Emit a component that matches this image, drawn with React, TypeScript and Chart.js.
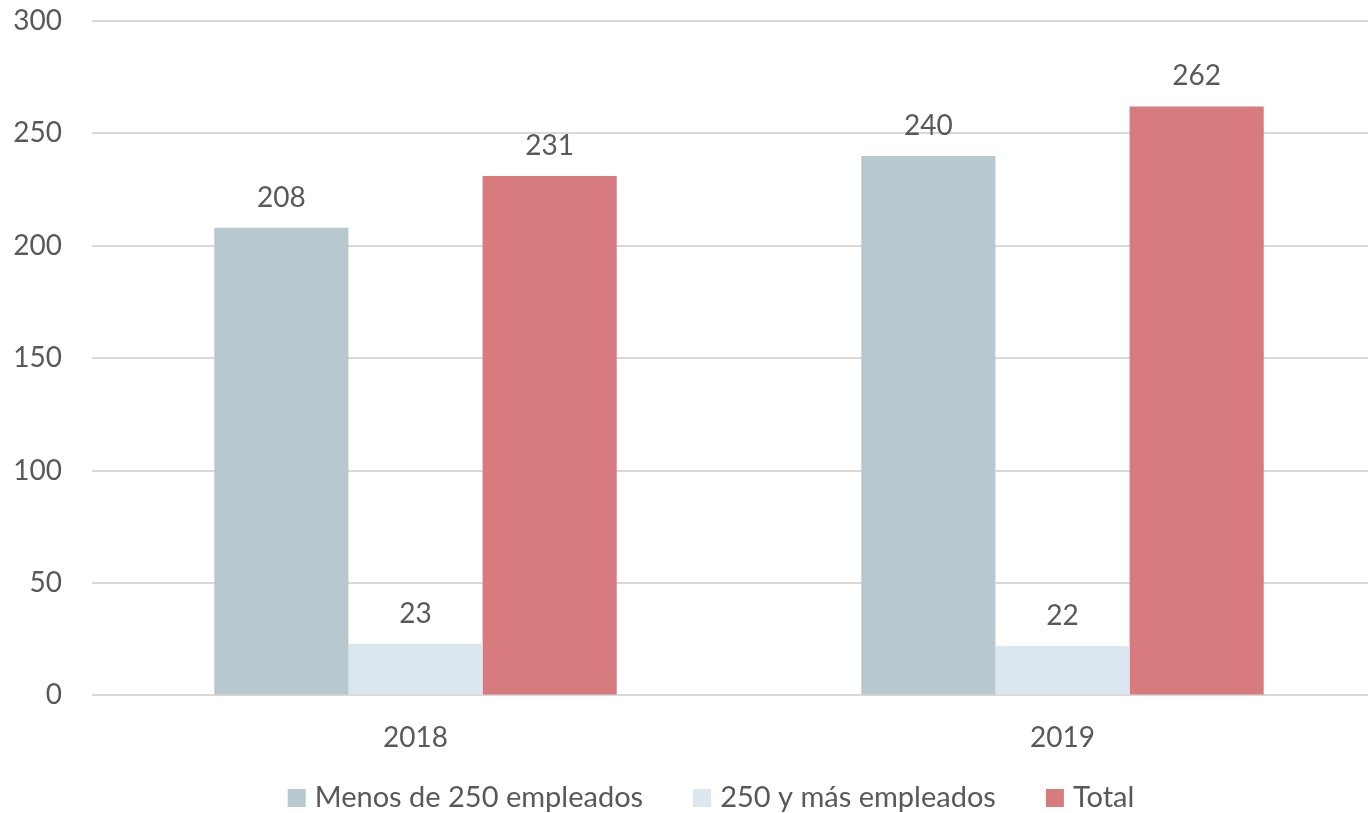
import React, { useEffect, useRef } from "react";
import { Chart, registerables } from "chart.js";

Chart.register(...registerables);

const categories = ["2018", "2019"];
const menos250 = [208, 240];
const mas250 = [23, 22];
const total = [231, 262];
const seriesLabels = ["Menos de 250 empleados", "250 y más empleados", "Total"];
const seriesColors = ["#B7C8CF", "#DAE7EE", "#D77B7E"];
const yTicks = [0, 50, 100, 150, 200, 250, 300];

const FONT = "Lato, 'Open Sans', sans-serif";
const TEXT = "#595959";

const valueLabels = {
  id: "valueLabels",
  afterDatasetsDraw(chart: any) {
    const ctx = chart.ctx;
    ctx.save();
    ctx.font = `28px ${FONT}`;
    ctx.fillStyle = TEXT;
    ctx.textAlign = "center";
    ctx.textBaseline = "middle";
    chart.data.datasets.forEach((ds: any, i: number) => {
      const meta = chart.getDatasetMeta(i);
      meta.data.forEach((bar: any, j: number) => {
        ctx.fillText(String(ds.data[j]), bar.x, bar.y - 30);
      });
    });
    ctx.restore();
  },
};

const bottomLegend = {
  id: "bottomLegend",
  afterDraw(chart: any) {
    const ctx = chart.ctx;
    ctx.save();
    ctx.font = `29px ${FONT}`;
    ctx.textBaseline = "middle";
    ctx.textAlign = "left";
    const box = 18, gapText = 9, gapItem = 50;
    const items = chart.data.datasets.map((ds: any) => ({
      label: ds.label,
      color: ds.backgroundColor,
      w: ctx.measureText(ds.label).width,
    }));
    const totalW = items.reduce((a: number, it: any) => a + box + gapText + it.w, 0) + gapItem * (items.length - 1);
    let x = chart.width / 2 - totalW / 2;
    const cy = 798;
    items.forEach((it: any) => {
      ctx.fillStyle = it.color;
      ctx.fillRect(x, cy - box / 2, box, box);
      x += box + gapText;
      ctx.fillStyle = TEXT;
      ctx.fillText(it.label, x, cy);
      x += it.w + gapItem;
    });
    ctx.restore();
  },
};

export default function App() {
  const ref = useRef<HTMLCanvasElement>(null);
  useEffect(() => {
    document.body.style.margin = "0";
    const chart = new Chart(ref.current!, {
      type: "bar",
      data: {
        labels: categories,
        datasets: [menos250, mas250, total].map((d, i) => ({
          label: seriesLabels[i],
          data: d,
          backgroundColor: seriesColors[i],
          borderWidth: 0,
          barPercentage: 1,
          categoryPercentage: 0.622,
        })),
      },
      options: {
        responsive: false,
        animation: false,
        maintainAspectRatio: false,
        layout: { padding: { top: 21, right: 36, left: 0, bottom: 40 } },
        plugins: {
          tooltip: { enabled: false },
          legend: { display: false },
        },
        scales: {
          x: {
            grid: { display: false },
            border: { display: false },
            ticks: { font: { family: FONT, size: 28 }, color: TEXT, padding: 18 },
          },
          y: {
            min: 0,
            max: 300,
            afterFit: (s: any) => { s.width = 92; },
            afterBuildTicks: (s: any) => { s.ticks = yTicks.map((v) => ({ value: v })); },
            grid: { color: "#D9D9D9", lineWidth: 2, drawTicks: true, tickLength: 30, tickColor: "rgba(0,0,0,0)" },
            border: { display: false },
            ticks: { font: { family: FONT, size: 28 }, color: TEXT, padding: 0 },
          },
        },
      },
      plugins: [valueLabels, bottomLegend],
    });
    return () => chart.destroy();
  }, []);
  return (
    <div style={{ width: 1368, height: 813, overflow: "hidden", position: "relative", background: "#fff" }}>
      <canvas ref={ref} width={1422} height={813} style={{ display: "block" }} />
    </div>
  );
}
